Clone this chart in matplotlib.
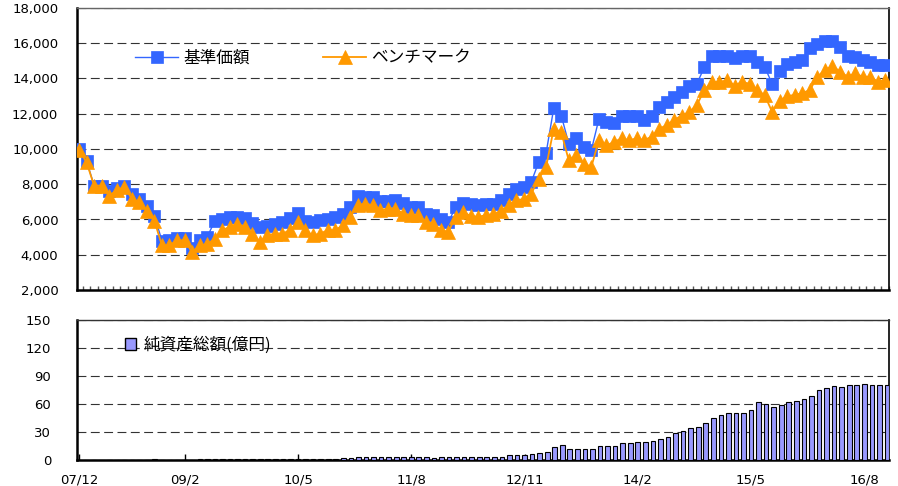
import matplotlib
matplotlib.use('Agg')
import matplotlib.pyplot as plt
from matplotlib.lines import Line2D
from matplotlib.patches import Patch
from matplotlib.font_manager import FontProperties
import numpy as np

# ---------------- data ----------------
nav = [10000, 9340, 7920, 7920, 7640, 7800, 7900, 7450, 7165, 6785,
       6220, 4800, 4850, 4950, 4950, 4400, 4850, 5000, 5900, 6050,
       6150, 6150, 6100, 5800, 5600, 5650, 5750, 5850, 6100, 6350,
       5900, 5850, 5950, 6000, 6150, 6300, 6700, 7350, 7300, 7250,
       7050, 7050, 7100, 6950, 6700, 6700, 6300, 6250, 6000, 5850,
       6700, 6950, 6900, 6800, 6900, 6900, 7100, 7450, 7750, 7850,
       8100, 9250, 9800, 12300, 11900, 10300, 10600, 10100, 9950, 11700,
       11550, 11450, 11900, 11900, 11900, 11650, 11900, 12400, 12650, 12950,
       13250, 13550, 13700, 14650, 15250, 15300, 15300, 15150, 15300, 15250,
       14950, 14650, 13700, 14450, 14850, 14950, 15050, 15750, 15950, 16100,
       16100, 15800, 15250, 15200, 15050, 14950, 14750, 14750]

bench = [9950, 9240, 7920, 7920, 7360, 7650, 7860, 7180, 6990, 6500,
         5935, 4530, 4530, 4820, 4820, 4150, 4530, 4600, 4900, 5390,
         5580, 5770, 5580, 5200, 4720, 5100, 5200, 5200, 5390, 5860,
         5390, 5100, 5200, 5390, 5390, 5670, 6150, 6810, 6900, 6810,
         6530, 6620, 6620, 6340, 6240, 6240, 5860, 5770, 5390, 5300,
         6150, 6400, 6200, 6150, 6250, 6300, 6500, 6800, 7100, 7150,
         7450, 8300, 9000, 11150, 10950, 9350, 9650, 9150, 9000, 10500,
         10200, 10400, 10600, 10500, 10600, 10500, 10700, 11150, 11350, 11650,
         11900, 12100, 12500, 13350, 13800, 13800, 13900, 13600, 13800, 13700,
         13350, 13050, 12100, 12750, 13000, 13070, 13170, 13350, 14100, 14490,
         14700, 14390, 14100, 14300, 14100, 14100, 13820, 13920]

aum = [0, 0, 0, 0, 0, 0, 0, 0, 0, 0,
       0.6, 0, 0, 0, 0, 0, 1, 1, 1, 1,
       1, 1, 1, 1, 1, 1, 1, 1, 1, 1,
       1, 1, 1, 1, 1, 2, 2, 3.5, 3.5, 3.5,
       3.5, 3.5, 3.5, 3.5, 3.5, 3.5, 3.5, 2, 3.5, 3.5,
       3.5, 3.5, 3.5, 3.5, 3.5, 3.5, 3.5, 5.5, 5.5, 5.5,
       6.5, 7.5, 9, 14, 16, 12, 12, 12, 12, 15.5,
       15.5, 15.5, 18, 18, 19.5, 19.5, 20.5, 22, 25, 28.5,
       31, 34, 35.7, 40, 44.6, 48, 50, 50, 50, 53.5,
       62, 60.5, 57, 58.5, 61.8, 63.5, 65.3, 69, 75, 77,
       79.3, 78, 80.3, 80.3, 81.4, 80.3, 80.3, 80.3]

tick_labels = ['07/12', '09/2', '10/5', '11/8', '12/11', '14/2', '15/5', '16/8']
series_names = ['基準価額', 'ベンチマーク']
bar_name = '純資産総額(億円)'

# month categories starting 2007/12
months = []
yy, mm = 2007, 12
for _ in range(len(nav)):
    months.append(f"{yy % 100:02d}/{mm}")
    mm += 1
    if mm > 12:
        mm = 1
        yy += 1
x = np.arange(len(months))
tick_pos = [months.index(t) for t in tick_labels]

BLUE = '#3366FF'
ORANGE = '#FF9900'
BARC = '#9999FF'
jp = FontProperties(family=['Noto Sans CJK JP', 'DejaVu Sans'], size=12)

fig = plt.figure(figsize=(8.98, 4.86), dpi=100)
W, H = 898, 486
ax1 = fig.add_axes([77 / W, (H - 290) / H, 812 / W, 282 / H])
ax2 = fig.add_axes([77 / W, (H - 460) / H, 812 / W, 140 / H])

dash = (0, (8, 4))
xl = (-0.27, len(x) - 1 + 0.27)

# ---------------- top chart ----------------
ax1.plot(x, nav, color=BLUE, lw=1.0, marker='s', ms=8.2, mec=BLUE, mfc=BLUE, mew=0.5, zorder=3)
ax1.plot(x, bench, color=ORANGE, lw=1.3, marker='^', ms=9.5, mec=ORANGE, mfc=ORANGE, mew=0.5, zorder=4)
ax1.set_xlim(*xl)
ax1.set_ylim(2000, 18000)
ax1.set_yticks(range(2000, 18001, 2000))
ax1.set_yticklabels([f"{v:,}" for v in range(2000, 18001, 2000)])
ax1.yaxis.grid(True, linestyle=dash, color='#333333', lw=0.8)
ax1.set_axisbelow(True)
ax1.set_xticks(x + 0.5)
ax1.set_xticklabels([])
ax1.tick_params(axis='x', direction='in', length=3, width=1, color='#555555')
ax1.tick_params(axis='y', length=0, pad=13.5, labelsize=9.5)
for s in ('left', 'bottom'):
    ax1.spines[s].set_linewidth(1.8)
    ax1.spines[s].set_color('black')
ax1.spines['top'].set_color('#666666')
ax1.spines['top'].set_linewidth(1.0)
ax1.spines['right'].set_color('black')
ax1.spines['right'].set_linewidth(1.2)

h1 = [Line2D([], [], color=BLUE, lw=1.0, marker='s', ms=8.2, mew=0.5),
      Line2D([], [], color=ORANGE, lw=1.3, marker='^', ms=9.5, mew=0.5)]
ax1.legend(h1, series_names, ncol=2, loc='center left', bbox_to_anchor=(0.0714, 0.823),
           frameon=False, prop=jp, handlelength=2.6, handletextpad=0.3,
           columnspacing=4.4, borderaxespad=0, borderpad=0)

# ---------------- bottom chart ----------------
ax2.bar(x, aum, width=0.62, color=BARC, edgecolor='black', linewidth=0.8, zorder=3)
ax2.set_xlim(*xl)
ax2.set_ylim(0, 150)
ax2.set_yticks(range(0, 151, 30))
ax2.yaxis.grid(True, linestyle=dash, color='#333333', lw=0.8)
ax2.set_axisbelow(True)
ax2.set_xticks(tick_pos)
ax2.set_xticklabels(tick_labels)
ax2.tick_params(axis='x', direction='in', length=4, width=1, color='black', pad=9.5, labelsize=9.5)
ax2.tick_params(axis='y', length=0, pad=18.5, labelsize=9.5)
for s in ('left', 'bottom'):
    ax2.spines[s].set_linewidth(1.8)
    ax2.spines[s].set_color('black')
ax2.spines['top'].set_color('#333333')
ax2.spines['top'].set_linewidth(1.0)
ax2.spines['right'].set_color('black')
ax2.spines['right'].set_linewidth(1.2)

h2 = [Patch(facecolor=BARC, edgecolor='black', linewidth=1.0)]
ax2.legend(h2, [bar_name], loc='center left', bbox_to_anchor=(0.059, 0.821),
           frameon=False, prop=jp, handlelength=0.65, handleheight=0.65,
           handletextpad=0.45, borderaxespad=0, borderpad=0)

fig.savefig('out.png', dpi=100)
